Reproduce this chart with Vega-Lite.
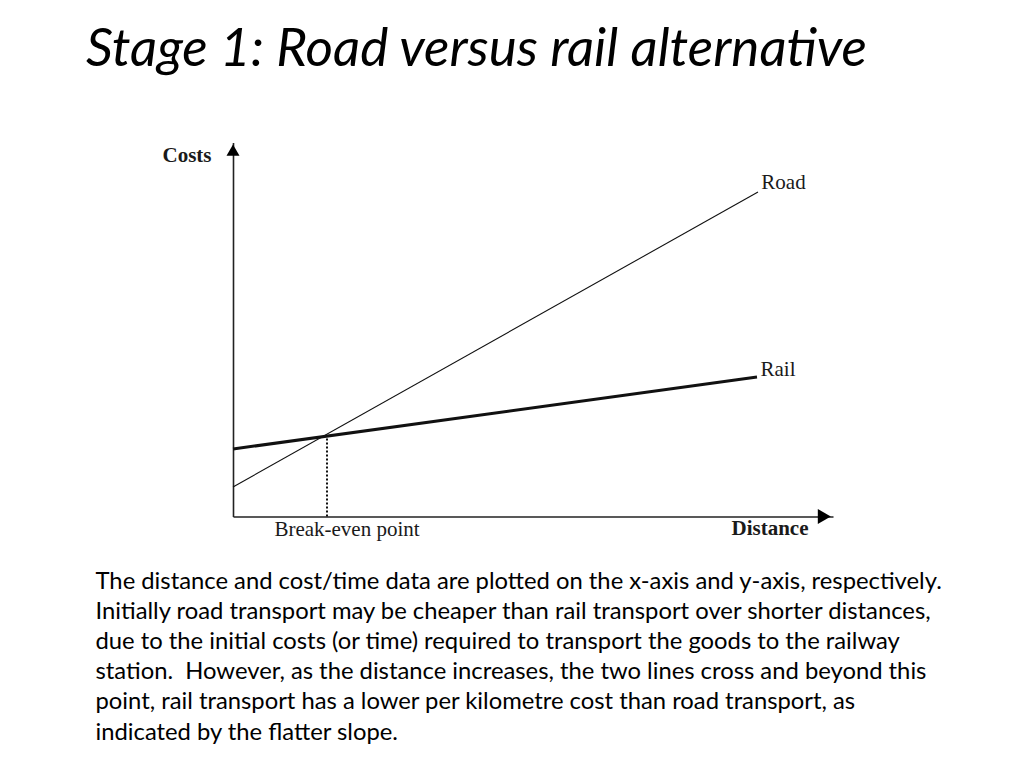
{
  "$schema": "https://vega.github.io/schema/vega-lite/v6.json",
  "width": 600,
  "height": 374,
  "autosize": "none",
  "padding": {"left": 233, "top": 142.5, "right": 191, "bottom": 251.5},
  "background": "white",
  "config": {"view": {"stroke": null}},
  "title": {
    "text": "Stage 1: Road versus rail alternative",
    "anchor": "start",
    "frame": "group",
    "dx": -147,
    "offset": 24,
    "baseline": "alphabetic",
    "font": "Lato",
    "fontStyle": "italic",
    "fontWeight": "normal",
    "fontSize": 53,
    "color": "#000000"
  },
  "datasets": {
    "lines": [
      {"series": "Road", "x": 0, "y": 29.5},
      {"series": "Road", "x": 525, "y": 324.5},
      {"series": "Rail", "x": 0, "y": 67.5},
      {"series": "Rail", "x": 524, "y": 139.5}
    ],
    "breakeven": [{"x": 94, "y": 0, "y2": 81.5}],
    "xarrow": [{"x": 591.3, "y": 0}],
    "yarrow": [{"x": 0, "y": 366.3}],
    "labels": [
      {"label": "Road", "x": 550.5, "y": 327.2},
      {"label": "Rail", "x": 545, "y": 140.5},
      {"label": "Break-even point", "x": 114, "y": -19.5}
    ],
    "boldlabels": [
      {"label": "Costs", "x": -46, "y": 354.5},
      {"label": "Distance", "x": 537, "y": -18.5}
    ]
  },
  "layer": [
    {
      "data": {"name": "lines"},
      "mark": {"type": "line", "color": "#111111"},
      "encoding": {
        "x": {
          "field": "x", "type": "quantitative",
          "scale": {"domain": [0, 600], "nice": false, "zero": false},
          "axis": {
            "domain": true, "domainColor": "#222222", "domainWidth": 1.6,
            "ticks": false, "labels": false, "grid": false,
            "title": [
              "The distance and cost/time data are plotted on the x-axis and y-axis, respectively.",
              "Initially road transport may be cheaper than rail transport over shorter distances,",
              "due to the initial costs (or time) required to transport the goods to the railway",
              "station.\u00a0 However, as the distance increases, the two lines cross and beyond this",
              "point, rail transport has a lower per kilometre cost than road transport, as",
              "indicated by the flatter slope."
            ],
            "titleX": -138,
            "titleY": 71.5,
            "titleAlign": "left",
            "titleAnchor": "start",
            "titleBaseline": "alphabetic",
            "titleAngle": 0,
            "titleFont": "Lato",
            "titleFontSize": 23.8,
            "titleFontWeight": "normal",
            "titleColor": "#000000",
            "titleLineHeight": 30.2,
            "titleLimit": 3000
          }
        },
        "y": {
          "field": "y", "type": "quantitative",
          "scale": {"domain": [0, 374], "nice": false, "zero": false},
          "axis": {
            "domain": true, "domainColor": "#222222", "domainWidth": 1.6,
            "ticks": false, "labels": false, "grid": false, "title": null
          }
        },
        "detail": {"field": "series", "type": "nominal"},
        "strokeWidth": {
          "field": "series", "type": "nominal",
          "scale": {"domain": ["Road", "Rail"], "range": [1.1, 3]},
          "legend": null
        }
      }
    },
    {
      "data": {"name": "breakeven"},
      "mark": {"type": "rule", "color": "#111111", "strokeWidth": 2, "strokeDash": [2, 2]},
      "encoding": {
        "x": {"field": "x", "type": "quantitative"},
        "y": {"field": "y", "type": "quantitative"},
        "y2": {"field": "y2"}
      }
    },
    {
      "data": {"name": "xarrow"},
      "mark": {"type": "point", "shape": "triangle-right", "filled": true, "color": "#000000", "size": 225, "opacity": 1},
      "encoding": {
        "x": {"field": "x", "type": "quantitative"},
        "y": {"field": "y", "type": "quantitative"}
      }
    },
    {
      "data": {"name": "yarrow"},
      "mark": {"type": "point", "shape": "triangle-up", "filled": true, "color": "#000000", "size": 169, "opacity": 1},
      "encoding": {
        "x": {"field": "x", "type": "quantitative"},
        "y": {"field": "y", "type": "quantitative"}
      }
    },
    {
      "data": {"name": "labels"},
      "mark": {"type": "text", "font": "Liberation Serif", "fontSize": 21, "baseline": "alphabetic", "align": "center", "color": "#1a1a1a"},
      "encoding": {
        "x": {"field": "x", "type": "quantitative"},
        "y": {"field": "y", "type": "quantitative"},
        "text": {"field": "label"}
      }
    },
    {
      "data": {"name": "boldlabels"},
      "mark": {"type": "text", "font": "Liberation Serif", "fontSize": 21, "fontWeight": "bold", "baseline": "alphabetic", "align": "center", "color": "#1a1a1a"},
      "encoding": {
        "x": {"field": "x", "type": "quantitative"},
        "y": {"field": "y", "type": "quantitative"},
        "text": {"field": "label"}
      }
    }
  ]
}
